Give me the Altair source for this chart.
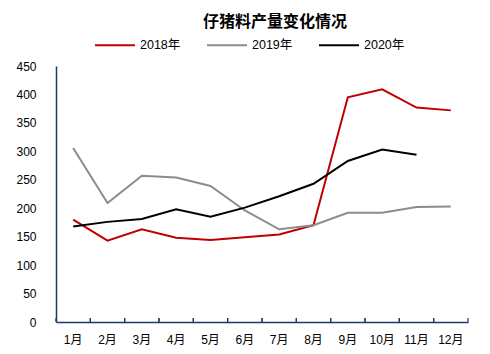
import altair as alt
import pandas as pd

months = ["1月", "2月", "3月", "4月", "5月", "6月", "7月", "8月", "9月", "10月", "11月", "12月"]
s2018 = [180, 143, 163, 148, 144, 149, 154, 170, 395, 409, 377, 372]
s2019 = [306, 209, 257, 254, 239, 196, 163, 170, 192, 192, 202, 203]
s2020 = [168, 176, 181, 198, 185, 201, 221, 243, 283, 303, 294, None]
series = ["2018年", "2019年", "2020年"]
colors = ["#C00000", "#8C8C8C", "#000000"]

rows = []
for name, vals in zip(series, [s2018, s2019, s2020]):
    for m, v in zip(months, vals):
        if v is not None:
            rows.append({"month": m, "value": v, "series": name})
df = pd.DataFrame(rows)
mdf = pd.DataFrame({"month": months})

FONT = "Liberation Sans, Noto Sans CJK SC"
AXIS_COLOR = "#1F3864"

x_enc = alt.X("month:N", sort=months, title=None,
              scale=alt.Scale(paddingInner=0, paddingOuter=0),
              axis=alt.Axis(labelAngle=0, tickSize=0, labelPadding=12,
                            domainColor=AXIS_COLOR, domainWidth=1.5,
                            labelFont=FONT, labelFontSize=12, labelColor="#000000"))

lines = alt.Chart(df).mark_line(strokeWidth=2).encode(
    x=x_enc,
    y=alt.Y("value:Q", title=None,
            scale=alt.Scale(domain=[0, 450], nice=False),
            axis=alt.Axis(values=list(range(0, 451, 50)), tickSize=0, labelPadding=20,
                          grid=False, domainColor=AXIS_COLOR, domainWidth=1.5,
                          labelFont=FONT, labelFontSize=12, labelColor="#000000")),
    color=alt.Color("series:N", sort=series,
                    scale=alt.Scale(domain=series, range=colors),
                    legend=alt.Legend(title=None, orient="none", direction="horizontal",
                                      legendX=38, legendY=-42,
                                      symbolType="stroke", symbolSize=1600,
                                      symbolStrokeWidth=2, columnPadding=22,
                                      labelFont=FONT, labelFontSize=12.5,
                                      labelColor="#000000", padding=0)),
)

ticks0 = alt.Chart(mdf).mark_rule(color=AXIS_COLOR, strokeWidth=1.2).encode(
    x=alt.X("month:N", sort=months, bandPosition=0),
    y=alt.value(252), y2=alt.value(256))
ticks1 = alt.Chart(mdf).mark_rule(color=AXIS_COLOR, strokeWidth=1.2).encode(
    x=alt.X("month:N", sort=months, bandPosition=1),
    y=alt.value(252), y2=alt.value(256))

chart = alt.layer(lines, ticks0, ticks1).properties(
    width=412, height=256,
    autosize=alt.AutoSizeParams(type="none"),
    padding={"left": 56, "top": 66, "right": 22, "bottom": 32},
    title=alt.TitleParams("仔猪料产量变化情况", font="Noto Sans CJK SC", fontSize=16,
                          fontWeight="bold", color="#000000", dx=13, offset=-6),
).configure_view(stroke=None)

chart.save("out.html", embed_options={"renderer": "svg", "actions": False})
